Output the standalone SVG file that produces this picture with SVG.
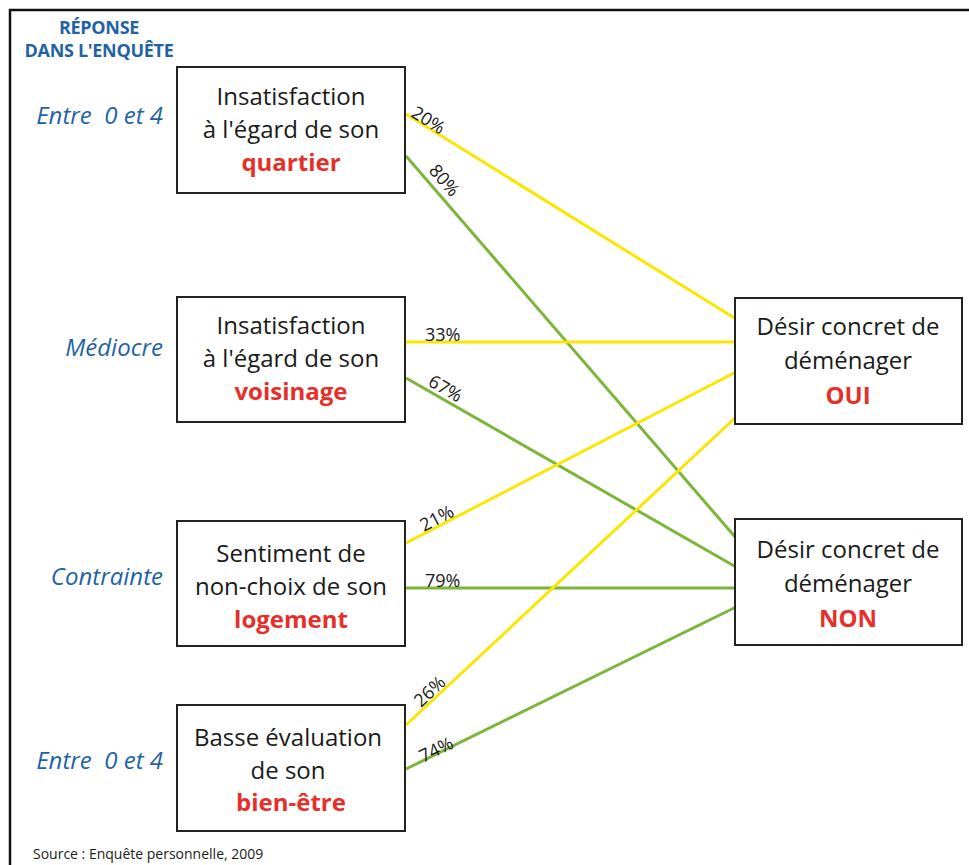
<svg xmlns="http://www.w3.org/2000/svg" width="969" height="865" viewBox="0 0 969 865">
<style>
.box{fill:#fff;stroke:#222;stroke-width:2}
.t{font-family:"Open Sans","Noto Sans",sans-serif;font-size:24px;fill:#1a1a1a;text-anchor:middle}
.k{font-family:"Open Sans","Noto Sans",sans-serif;font-size:24px;font-weight:bold;fill:#e5302a;text-anchor:middle}
.lab{font-family:"Open Sans","Noto Sans",sans-serif;font-size:24px;font-style:italic;fill:#1f63a6;text-anchor:end;white-space:pre}
.hd{font-family:"Open Sans","Noto Sans",sans-serif;font-size:18px;font-weight:bold;fill:#1f63a6;text-anchor:middle;letter-spacing:-0.3px}
.p{font-family:"Open Sans","Noto Sans",sans-serif;font-size:18px;fill:#1a1a1a}
.src{font-family:"Open Sans","Noto Sans",sans-serif;font-size:14px;fill:#1a1a1a}
.y{stroke:#fbe600;stroke-width:3;fill:none}
.g{stroke:#7db53a;stroke-width:3;fill:none}
</style>
<rect width="969" height="865" fill="#fff"/>
<path d="M10,865 V10 H969" fill="none" stroke="#111" stroke-width="2.5"/>
<g id="header">
<text class="hd" x="99" y="34">RÉPONSE</text>
<text class="hd" x="99" y="57">DANS L'ENQUÊTE</text>
</g>
<g id="labels">
<text class="lab" x="163" y="124" xml:space="preserve">Entre  0 et 4</text>
<text class="lab" x="163" y="356">Médiocre</text>
<text class="lab" x="163" y="585">Contrainte</text>
<text class="lab" x="163" y="769" xml:space="preserve">Entre  0 et 4</text>
</g>
<g id="connectors">
<line class="y" x1="406" y1="114" x2="736" y2="319"/>
<line class="g" x1="406" y1="156" x2="736" y2="538"/>
<line class="y" x1="406" y1="342" x2="736" y2="342"/>
<line class="g" x1="406" y1="378" x2="736" y2="567"/>
<line class="y" x1="406" y1="543" x2="736" y2="372"/>
<line class="g" x1="406" y1="588" x2="736" y2="588"/>
<line class="y" x1="406" y1="725" x2="736" y2="417"/>
<line class="g" x1="406" y1="769" x2="736" y2="607"/>
<text class="p" transform="translate(410,116) rotate(32)">20%</text>
<text class="p" transform="translate(428,171) rotate(49)">80%</text>
<text class="p" x="425" y="341">33%</text>
<text class="p" transform="translate(427,385) rotate(30)">67%</text>
<text class="p" transform="translate(424,532) rotate(-27.5)">21%</text>
<text class="p" x="425" y="587">79%</text>
<text class="p" transform="translate(421,708) rotate(-43)">26%</text>
<text class="p" transform="translate(423,763) rotate(-26)">74%</text>
</g>
<g id="n1">
<rect class="box" x="177" y="67" width="228" height="126"/>
<text class="t" x="291" y="105">Insatisfaction</text>
<text class="t" x="291" y="138">à l'égard de son</text>
<text class="k" x="291" y="171">quartier</text>
</g>
<g id="n2">
<rect class="box" x="177" y="297" width="228" height="125"/>
<text class="t" x="291" y="334">Insatisfaction</text>
<text class="t" x="291" y="367">à l'égard de son</text>
<text class="k" x="291" y="400">voisinage</text>
</g>
<g id="n3">
<rect class="box" x="177" y="521" width="228" height="125"/>
<text class="t" x="291" y="562">Sentiment de</text>
<text class="t" x="291" y="595">non-choix de son</text>
<text class="k" x="291" y="628">logement</text>
</g>
<g id="n4">
<rect class="box" x="177" y="705" width="228" height="126"/>
<text class="t" x="288" y="746">Basse évaluation</text>
<text class="t" x="288" y="779">de son</text>
<text class="k" x="291" y="811">bien-être</text>
</g>
<g id="oui">
<rect class="box" x="735" y="298" width="227" height="126"/>
<text class="t" x="848" y="335">Désir concret de</text>
<text class="t" x="848" y="369">déménager</text>
<text class="k" x="848" y="404">OUI</text>
</g>
<g id="non">
<rect class="box" x="735" y="519" width="227" height="126"/>
<text class="t" x="848" y="558">Désir concret de</text>
<text class="t" x="848" y="592">déménager</text>
<text class="k" x="848" y="627">NON</text>
</g>
<text class="src" x="33" y="859">Source : Enquête personnelle, 2009</text>
</svg>
